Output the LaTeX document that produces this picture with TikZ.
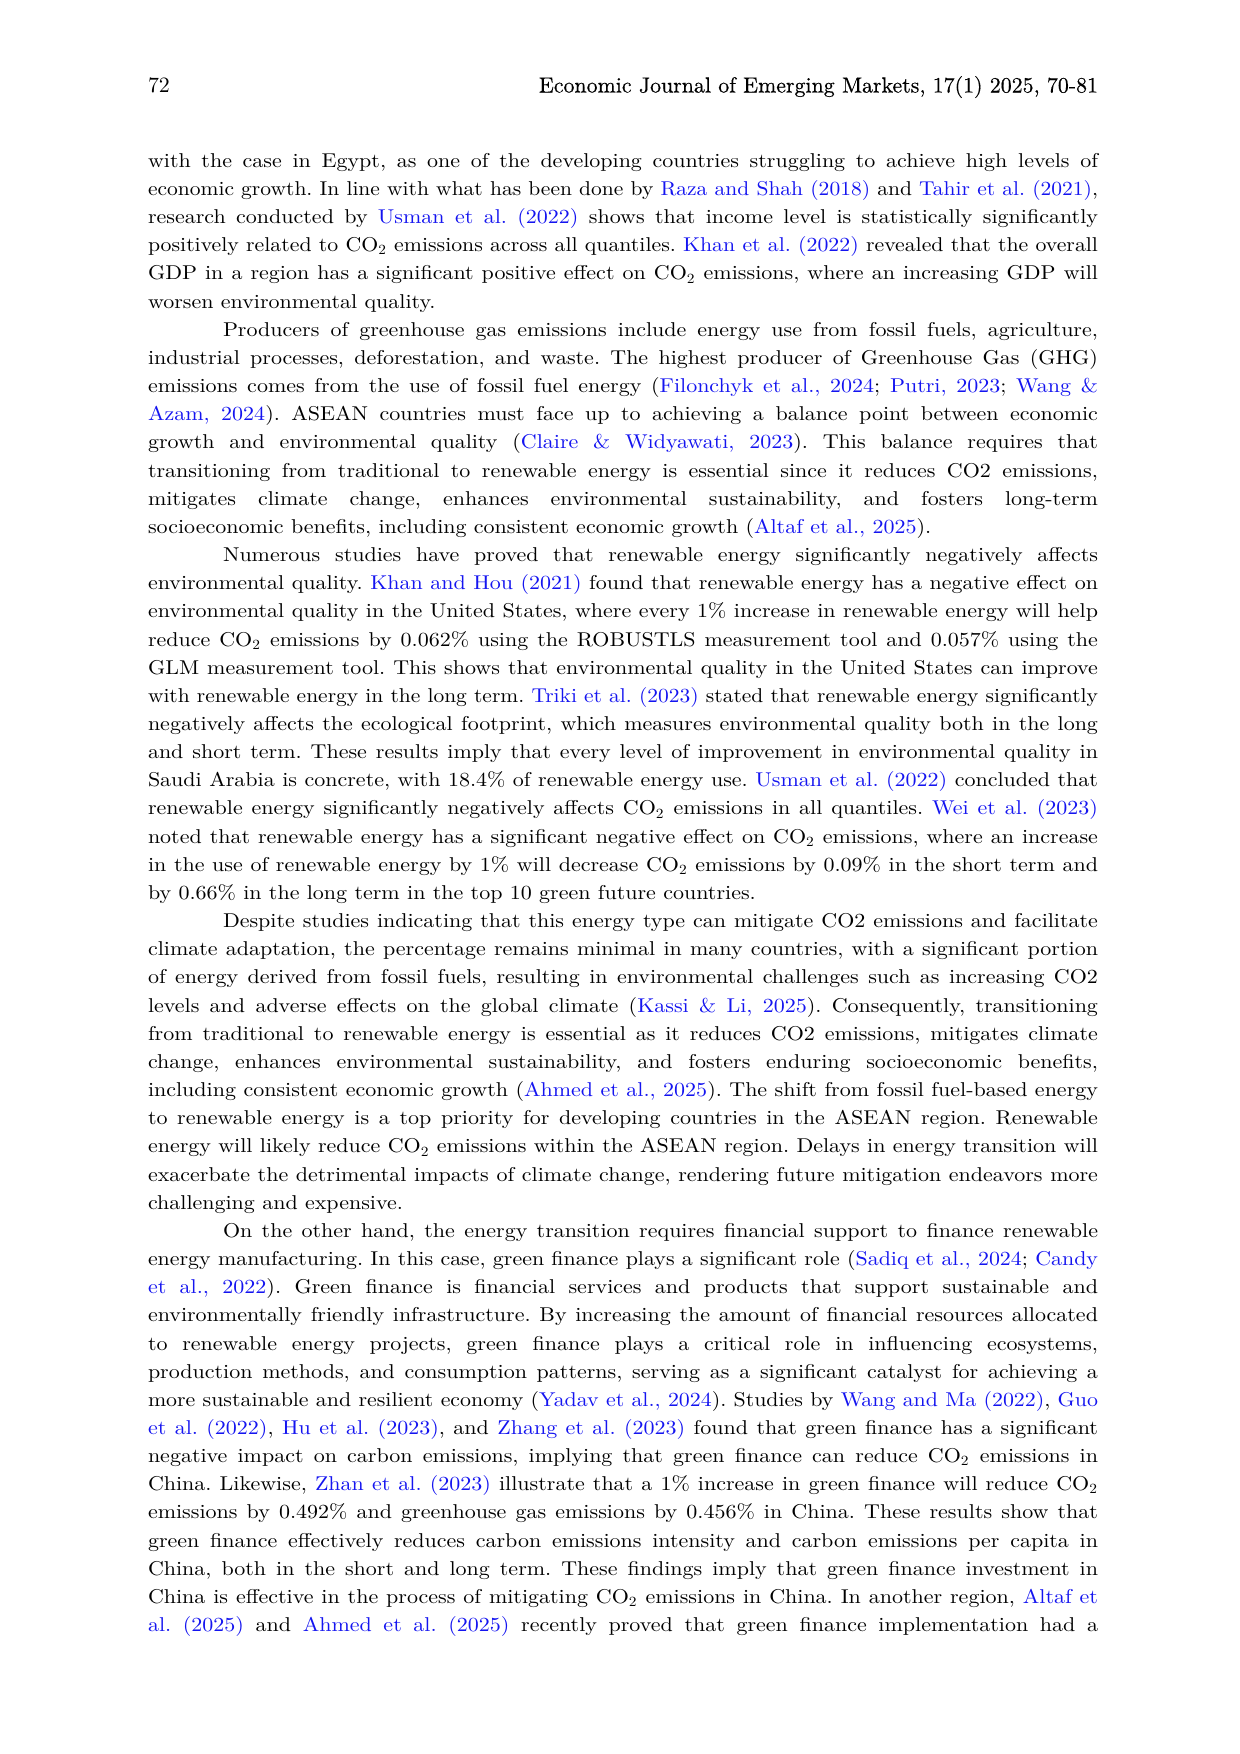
\documentclass[tikz,border=0pt]{standalone}
\usepackage{fontspec}
\setmainfont{lmroman10-regular.otf}[FakeStretch=1.1]
\newfontfamily\hdrfont{lmroman10-regular.otf}[FakeBold=0.4]
\newfontfamily\numfont{lmroman10-regular.otf}
\usepackage{graphicx}
\definecolor{cite}{RGB}{20,20,240}
\newlength\TW \setlength\TW{456pt}
\newlength\TWi \setlength\TWi{420pt}
\newsavebox\jbox
\newcommand\jl[2][\TW]{\sbox\jbox{#2}\ifdim\wd\jbox>#1\relax\resizebox{#1}{\ht\jbox}{\usebox\jbox}\else\makebox[#1][s]{#2}\fi}
\newcommand\cl[1]{\textcolor{cite}{#1}}
\newcommand\COt{CO\textsubscript{2}}
\newcommand\J[2]{\node[txtline] (l#1) at (148,{167.3+(#1-1)*28.16}) {\jl{#2}};}
\newcommand\JI[2]{\node[txtline] (l#1) at (223,{167.3+(#1-1)*28.16}) {\jl[\TWi]{#2}};}
\newcommand\JL[2]{\node[txtline] (l#1) at (148,{167.3+(#1-1)*28.16}) {#2};}
\tikzset{
  txtline/.style={anchor=base west, inner sep=0pt, outer sep=0pt, font=\fontsize{9.6pt}{13.5pt}\selectfont\frenchspacing},
  hdrtext/.style={inner sep=0pt, outer sep=0pt, font=\hdrfont\fontsize{10.5pt}{13pt}\selectfont\frenchspacing},
  numtext/.style={inner sep=0pt, outer sep=0pt, font=\numfont\fontsize{10.5pt}{13pt}\selectfont}
}
\begin{document}
\begin{tikzpicture}[x=0.48pt,y=-0.48pt]
\fill[white] (0,0) rectangle (1240,1754);
\useasboundingbox (0,0) rectangle (1240,1754);
\node[numtext, anchor=base west] (hdrnum) at (148,92.5) {72};
\node[hdrtext, anchor=base east] (hdr) at (1098,92.5) {Economic Journal of Emerging Markets, 17(1) 2025, 70-81};
\J{1}{with the case in Egypt, as one of the developing countries struggling to achieve high levels of}
\J{2}{economic growth. In line with what has been done by \cl{Raza and Shah (2018)} and \cl{Tahir et al. (2021)},}
\J{3}{research conducted by \cl{Usman et al. (2022)} shows that income level is statistically significantly}
\J{4}{positively related to \COt{} emissions across all quantiles. \cl{Khan et al. (2022)} revealed that the overall}
\J{5}{GDP in a region has a significant positive effect on \COt{} emissions, where an increasing GDP will}
\JL{6}{worsen environmental quality.}
\JI{7}{Producers of greenhouse gas emissions include energy use from fossil fuels, agriculture,}
\J{8}{industrial processes, deforestation, and waste. The highest producer of Greenhouse Gas (GHG)}
\J{9}{emissions comes from the use of fossil fuel energy (\cl{Filonchyk et al., 2024}; \cl{Putri, 2023}; \cl{Wang \&}}
\J{10}{\cl{Azam, 2024}). ASEAN countries must face up to achieving a balance point between economic}
\J{11}{growth and environmental quality (\cl{Claire \& Widyawati, 2023}). This balance requires that}
\J{12}{transitioning from traditional to renewable energy is essential since it reduces CO2 emissions,}
\J{13}{mitigates climate change, enhances environmental sustainability, and fosters long-term}
\JL{14}{socioeconomic benefits, including consistent economic growth (\cl{Altaf et al., 2025}).}
\JI{15}{Numerous studies have proved that renewable energy significantly negatively affects}
\J{16}{environmental quality. \cl{Khan and Hou (2021)} found that renewable energy has a negative effect on}
\J{17}{environmental quality in the United States, where every 1\% increase in renewable energy will help}
\J{18}{reduce \COt{} emissions by 0.062\% using the ROBUSTLS measurement tool and 0.057\% using the}
\J{19}{GLM measurement tool. This shows that environmental quality in the United States can improve}
\J{20}{with renewable energy in the long term. \cl{Triki et al. (2023)} stated that renewable energy significantly}
\J{21}{negatively affects the ecological footprint, which measures environmental quality both in the long}
\J{22}{and short term. These results imply that every level of improvement in environmental quality in}
\J{23}{Saudi Arabia is concrete, with 18.4\% of renewable energy use. \cl{Usman et al. (2022)} concluded that}
\J{24}{renewable energy significantly negatively affects \COt{} emissions in all quantiles. \cl{Wei et al. (2023)}}
\J{25}{noted that renewable energy has a significant negative effect on \COt{} emissions, where an increase}
\J{26}{in the use of renewable energy by 1\% will decrease \COt{} emissions by 0.09\% in the short term and}
\JL{27}{by 0.66\% in the long term in the top 10 green future countries.}
\JI{28}{Despite studies indicating that this energy type can mitigate CO2 emissions and facilitate}
\J{29}{climate adaptation, the percentage remains minimal in many countries, with a significant portion}
\J{30}{of energy derived from fossil fuels, resulting in environmental challenges such as increasing CO2}
\J{31}{levels and adverse effects on the global climate (\cl{Kassi \& Li, 2025}). Consequently, transitioning}
\J{32}{from traditional to renewable energy is essential as it reduces CO2 emissions, mitigates climate}
\J{33}{change, enhances environmental sustainability, and fosters enduring socioeconomic benefits,}
\J{34}{including consistent economic growth (\cl{Ahmed et al., 2025}). The shift from fossil fuel-based energy}
\J{35}{to renewable energy is a top priority for developing countries in the ASEAN region. Renewable}
\J{36}{energy will likely reduce \COt{} emissions within the ASEAN region. Delays in energy transition will}
\J{37}{exacerbate the detrimental impacts of climate change, rendering future mitigation endeavors more}
\JL{38}{challenging and expensive.}
\JI{39}{On the other hand, the energy transition requires financial support to finance renewable}
\J{40}{energy manufacturing. In this case, green finance plays a significant role (\cl{Sadiq et al., 2024}; \cl{Candy}}
\J{41}{\cl{et al., 2022}). Green finance is financial services and products that support sustainable and}
\J{42}{environmentally friendly infrastructure. By increasing the amount of financial resources allocated}
\J{43}{to renewable energy projects, green finance plays a critical role in influencing ecosystems,}
\J{44}{production methods, and consumption patterns, serving as a significant catalyst for achieving a}
\J{45}{more sustainable and resilient economy (\cl{Yadav et al., 2024}). Studies by \cl{Wang and Ma (2022)}, \cl{Guo}}
\J{46}{\cl{et al. (2022)}, \cl{Hu et al. (2023)}, and \cl{Zhang et al. (2023)} found that green finance has a significant}
\J{47}{negative impact on carbon emissions, implying that green finance can reduce \COt{} emissions in}
\J{48}{China. Likewise, \cl{Zhan et al. (2023)} illustrate that a 1\% increase in green finance will reduce \COt}
\J{49}{emissions by 0.492\% and greenhouse gas emissions by 0.456\% in China. These results show that}
\J{50}{green finance effectively reduces carbon emissions intensity and carbon emissions per capita in}
\J{51}{China, both in the short and long term. These findings imply that green finance investment in}
\J{52}{China is effective in the process of mitigating \COt{} emissions in China. In another region, \cl{Altaf et}}
\J{53}{\cl{al. (2025)} and \cl{Ahmed et al. (2025)} recently proved that green finance implementation had a}
\end{tikzpicture}
\end{document}
